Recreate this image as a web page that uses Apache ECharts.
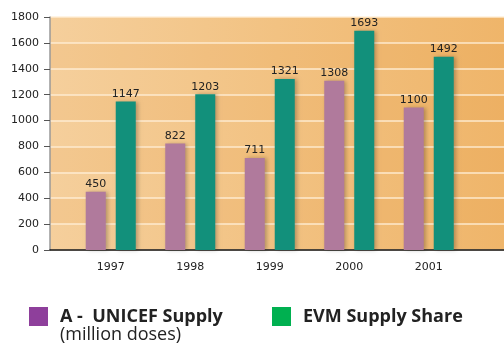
<!DOCTYPE html>
<html><head><meta charset="utf-8">
<script src="https://cdn.jsdelivr.net/npm/echarts@6/dist/echarts.min.js"></script>
<style>html,body{margin:0;padding:0;background:#fff}#c{width:504px;height:347px}</style>
</head><body><div id="c"></div>
<script>
const categories = ['1997','1998','1999','2000','2001'];
const unicefSupply = [450, 822, 711, 1308, 1100];
const evmShare = [1147, 1203, 1321, 1693, 1492];
const yTicks = [0,200,400,600,800,1000,1200,1400,1600,1800];

const chart = echarts.init(document.getElementById('c'), null, {renderer:'canvas'});
const font = '"Open Sans", "Noto Sans", sans-serif';
const numFont = '"DejaVu Sans", sans-serif';
const lbl = {show:true, position:'top', distance:2, color:'#222', fontSize:11, fontFamily:numFont};
chart.setOption({
  animation:false,
  grid:[
    {left:50, right:0, top:17, bottom:97, show:true, borderWidth:0,
     backgroundColor:{type:'linear',x:0,y:0,x2:1,y2:0,colorStops:[{offset:0,color:'#f5cf9c'},{offset:0.5,color:'#f2c282'},{offset:1,color:'#efb56a'}]}},
    {left:71, right:35.5, top:17, bottom:97}
  ],
  xAxis:[
    {gridIndex:0, type:'category', data:[''], axisLine:{lineStyle:{color:'#111',width:1.5}}, axisTick:{show:false}, axisLabel:{show:false}},
    {gridIndex:1, type:'category', data:categories, axisLine:{show:false}, axisTick:{show:false},
     axisLabel:{color:'#222', fontSize:11, fontFamily:numFont, margin:12}}
  ],
  yAxis:[
    {gridIndex:0, type:'value', min:0, max:1800, interval:200,
     axisLine:{show:true, lineStyle:{color:'#999',width:1.5}}, axisTick:{show:true, length:6, lineStyle:{color:'#555'}},
     axisLabel:{color:'#222', fontSize:11, fontFamily:numFont, margin:11, formatter:v=>yTicks.includes(v)?String(v):''},
     splitLine:{show:true, lineStyle:{color:'rgba(255,238,215,0.9)', width:1.5}},
     splitArea:{show:true, areaStyle:{color:['rgba(255,255,255,0)','rgba(230,140,40,0.10)']}}},
    {gridIndex:1, type:'value', min:0, max:1800, show:false}
  ],
  legend:[
    {left:29, top:307, itemWidth:19, itemHeight:19, icon:'rect', padding:0,
     textStyle:{color:'#222', fontSize:18, fontWeight:'bold', fontFamily:font, padding:[0,0,0,7]},
     data:[{name:'A -  UNICEF Supply', itemStyle:{color:'#8e3f9b'}}]},
    {left:272, top:307, itemWidth:19, itemHeight:19, icon:'rect', padding:0,
     textStyle:{color:'#222', fontSize:18, fontWeight:'bold', fontFamily:font, padding:[0,0,0,7]},
     data:[{name:'EVM Supply Share', itemStyle:{color:'#00b050'}}]}
  ],
  graphic:[{type:'text', left:60, top:326, style:{text:'(million doses)', fill:'#222', font:'18px "Open Sans", "Noto Sans", sans-serif'}}],
  series:[
    {name:'A -  UNICEF Supply', type:'bar', xAxisIndex:1, yAxisIndex:1, data:unicefSupply, barWidth:20, barGap:'50%',
     itemStyle:{color:'#b07a9c', shadowBlur:4, shadowOffsetX:2, shadowColor:'rgba(0,0,0,0.25)'}, label:lbl},
    {name:'EVM Supply Share', type:'bar', xAxisIndex:1, yAxisIndex:1, data:evmShare, barWidth:20, barGap:'50%',
     itemStyle:{color:'#12907b', shadowBlur:4, shadowOffsetX:2, shadowColor:'rgba(0,0,0,0.25)'}, label:lbl}
  ]
});
</script></body></html>
